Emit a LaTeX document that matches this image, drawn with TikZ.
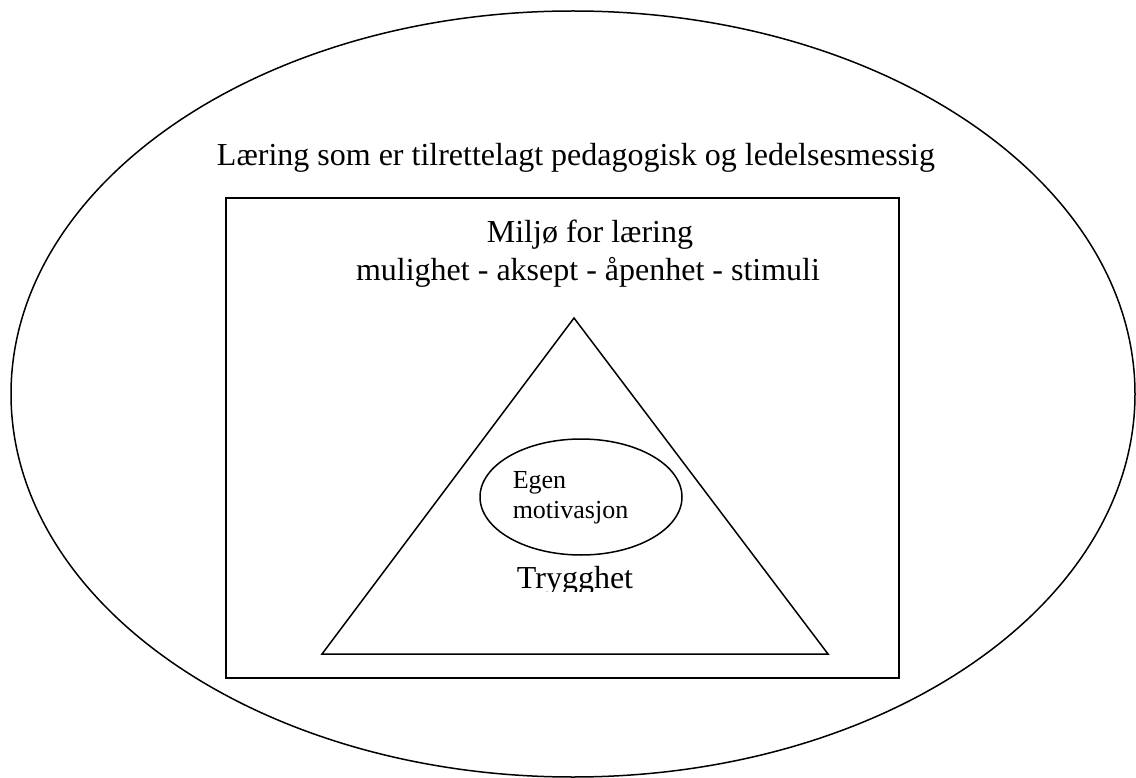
\documentclass[tikz,border=0pt]{standalone}
\usepackage{fontspec}
\setmainfont{Liberation Serif}
\usetikzlibrary{positioning}

\begin{document}
\begin{tikzpicture}[x=1pt,y=-1pt,line width=1.5pt,
  bigtext/.style={font=\fontsize{32}{40}\selectfont,inner sep=0pt},
  smalltext/.style={font=\fontsize{26}{30}\selectfont,inner sep=0pt,align=left}]
  \useasboundingbox (0,0) rectangle (1136,778);
  % outer frame
  \draw (573,394) ellipse [x radius=562,y radius=383];
  \node[bigtext,anchor=base] (laering) at (576,166) {Læring som er tilrettelagt pedagogisk og ledelsesmessig};
  % environment box
  \draw (226,198) rectangle (899,678);
  \node[bigtext,anchor=base] (miljo) at (590,243) {Miljø for læring};
  \node[bigtext,anchor=base] (stimuli) at (588,281) {mulighet - aksept - åpenhet - stimuli};
  % safety triangle
  \draw (574,318) -- (828,654) -- (322,654) -- cycle;
  \draw (581,497) ellipse [x radius=101,y radius=58];
  \node[smalltext,anchor=base west] (egen) at (512,518) {Egen\\motivasjon};
  \begin{scope}
    \clip (450,540) rectangle (700,591);
    \node[bigtext,anchor=base] (trygghet) at (575,588) {Trygghet};
  \end{scope}
\end{tikzpicture}
\end{document}
